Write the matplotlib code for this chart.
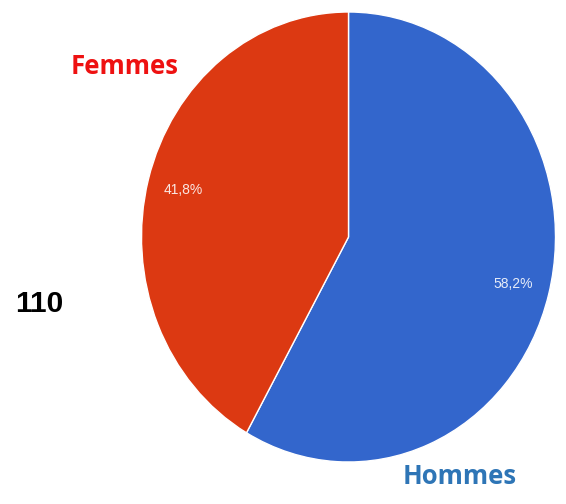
import matplotlib
matplotlib.use("Agg")
import matplotlib.pyplot as plt

# Data
categories = ["Hommes", "Femmes"]
values = [58.2, 41.8]
colors = ["#3366CC", "#DC3912"]
label_colors = ["#2E75B6", "#EE1111"]
total_label = "110"

W, H = 566, 504
fig = plt.figure(figsize=(W / 100, H / 100), dpi=100)
ax = fig.add_axes([0, 0, 1, 1])

# pie geometry (pixels) -> ellipse via unequal axis scaling
cx, cy, rx, ry = 348.5, 237.0, 207.0, 225.0

wedges, texts, autotexts = ax.pie(
    values, colors=colors, startangle=90, counterclock=False,
    autopct=lambda p: f"{p:.1f}%".replace(".", ","), pctdistance=0.825,
    wedgeprops=dict(edgecolor="white", linewidth=1.0),
    textprops=dict(color="white", fontsize=10, family="Liberation Sans"),
)
for t in autotexts:
    t.set_alpha(0.88)

ax.set_aspect("auto")
ax.set_xlim(-cx / rx, (W - cx) / rx)
ax.set_ylim(-(H - cy) / ry, cy / ry)
ax.axis("off")

def px(x, y):
    return x / W, 1 - y / H

fig.text(*px(125, 67), categories[1], color=label_colors[1], fontsize=18.5,
         fontweight="bold", family="Open Sans", ha="center", va="center")
fig.text(*px(460, 477), categories[0], color=label_colors[0], fontsize=18.5,
         fontweight="bold", family="Open Sans", ha="center", va="center")
fig.text(*px(39, 304), total_label, color="black", fontsize=21.5,
         fontweight="bold", family="Liberation Sans", ha="center", va="center")

fig.savefig("out.png", dpi=100)
